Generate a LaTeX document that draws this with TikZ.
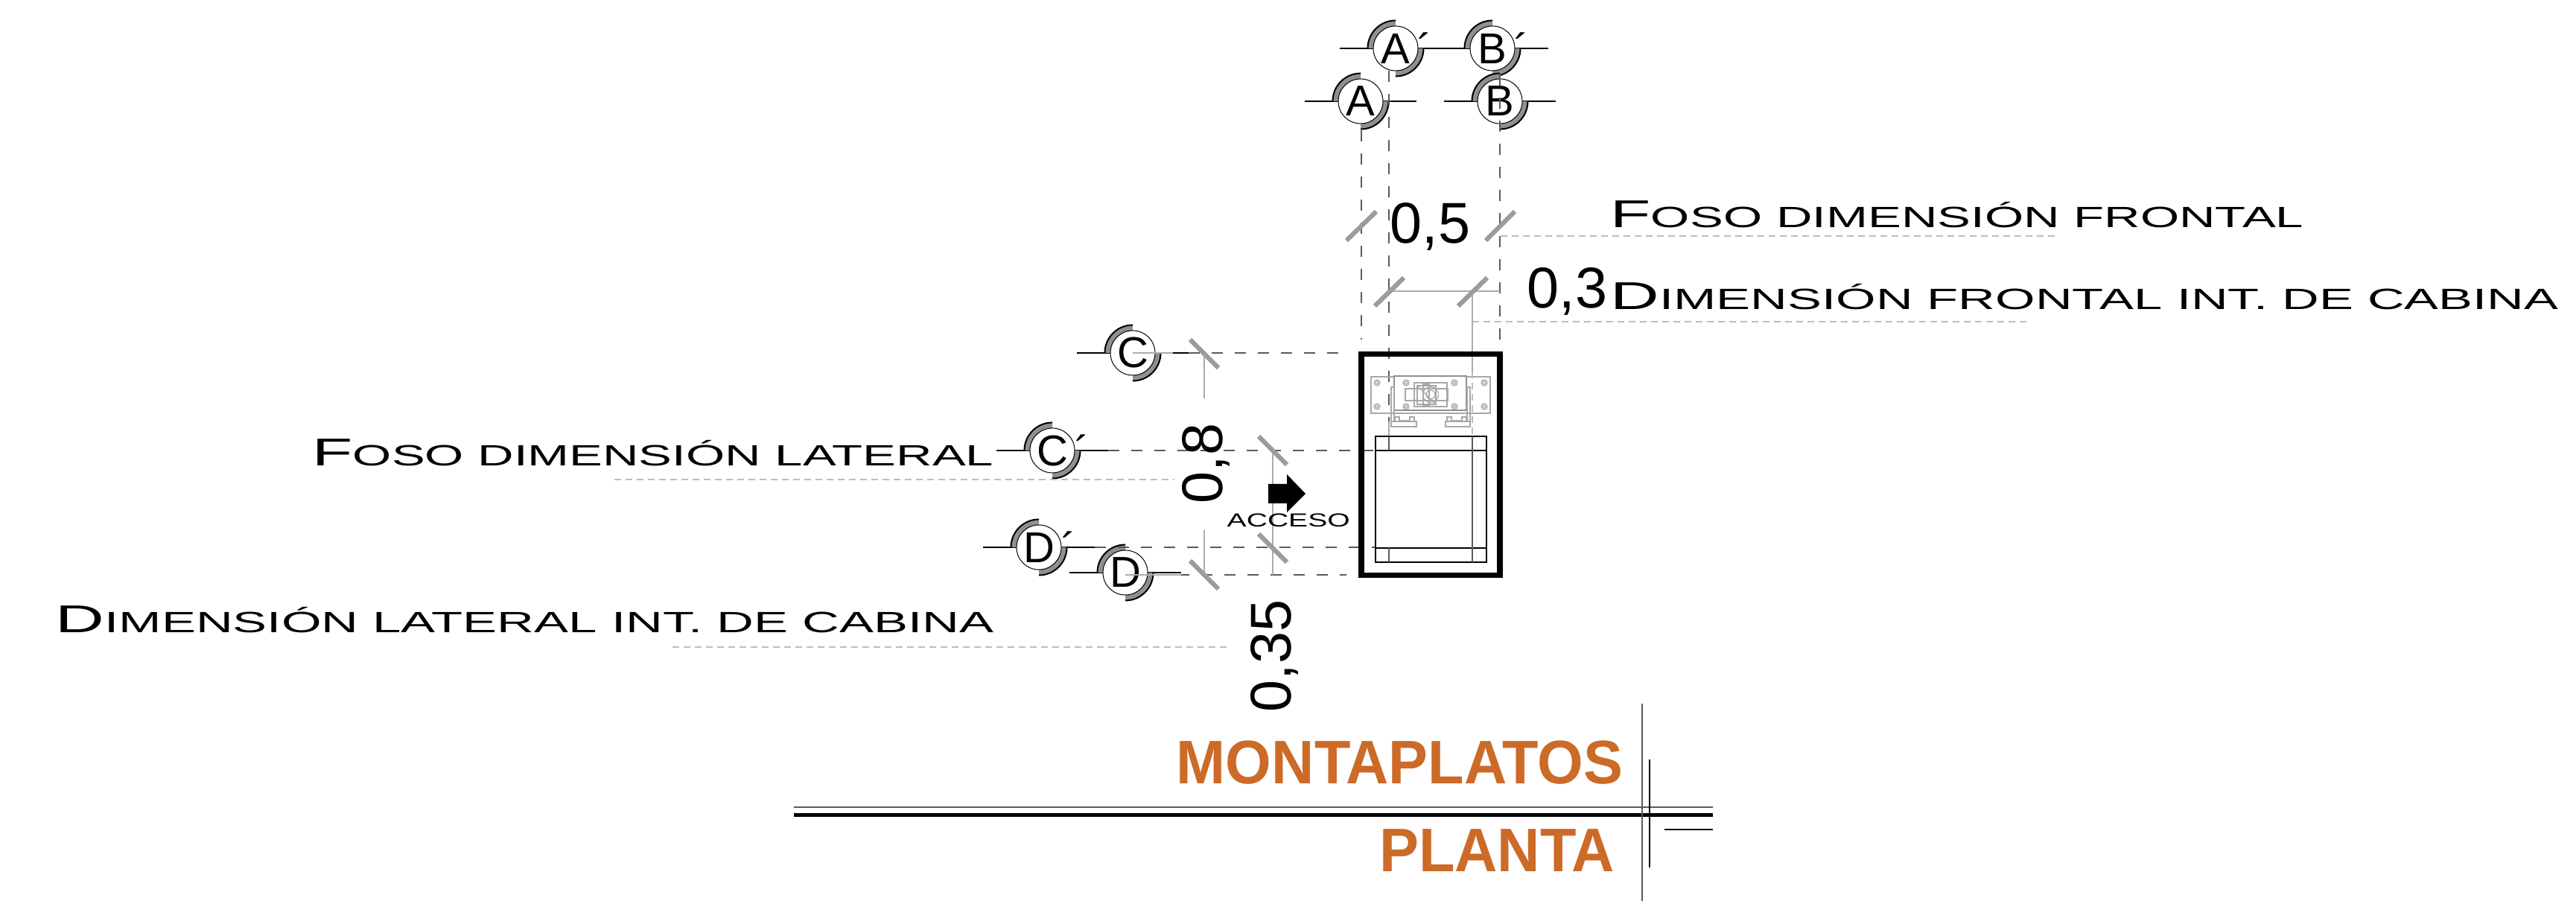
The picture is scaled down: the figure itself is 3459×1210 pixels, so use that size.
\documentclass[tikz,border=0pt]{standalone}
\usepackage{fontspec}
\usepackage{graphicx}
\setmainfont{Liberation Sans}
\definecolor{ringgray}{HTML}{8F8F8F}
\definecolor{tickgray}{HTML}{9C9C9C}
\definecolor{titleorange}{HTML}{CC6A28}
\definecolor{axisdark}{HTML}{5A5A5A}
\definecolor{leadergray}{HTML}{BDBDBD}
\definecolor{thingray}{HTML}{ABABAB}
\definecolor{machgray}{HTML}{A8A8A8}
\tikzset{
  secline/.style={black,line width=0.016cm},
  rimline/.style={black,line width=0.02cm},
  axisline/.style={axisdark,line width=0.012cm,dash pattern=on 0.15cm off 0.16cm},
  leaderline/.style={leadergray,line width=0.012cm,dash pattern=on 0.09cm off 0.06cm},
  thinline/.style={thingray,line width=0.014cm},
  ticksign/.style={tickgray,line width=0.062cm},
  cabline/.style={black,line width=0.014cm},
  machline/.style={machgray,line width=0.012cm},
  machdark/.style={machgray!85!black,line width=0.016cm},
  bubblenode/.style={circle,draw=black,fill=white,line width=0.01cm,minimum size=0.6cm,inner sep=0pt,font=\fontsize{16.5}{16.5}\selectfont},
  dimtext/.style={inner sep=0pt,font=\fontsize{22}{22}\selectfont},
  labeltext/.style={inner sep=0pt,anchor=base west},
  titletext/.style={inner sep=0pt,anchor=base east,text=titleorange,font=\fontsize{23.5}{24}\selectfont\bfseries},
}
\newcommand\capsz{\fontsize{14.8}{14.8}\selectfont}
\newcommand\smsz{\fontsize{11.2}{12}\selectfont}
\newcommand\primemark{\rlap{\raisebox{-0.02em}{\,´}}}
\newcommand\secbubble[4]{%
  \coordinate (#1c) at (#2,#3);
  \coordinate (#1l) at (#2-75,#3);
  \coordinate (#1r) at (#2+75,#3);
  \draw[secline] (#1l) -- (#1r);
  \fill[ringgray] (#1c) ++(180:0.38cm) arc[start angle=180,end angle=90,radius=0.38cm] -- ++(270:0.09cm) arc[start angle=90,end angle=180,radius=0.29cm] -- cycle;
  \fill[ringgray] (#1c) ++(0:0.38cm) arc[start angle=0,end angle=-90,radius=0.38cm] -- ++(90:0.09cm) arc[start angle=-90,end angle=0,radius=0.29cm] -- cycle;
  \draw[rimline] (#1c) ++(180:0.375cm) arc[start angle=180,end angle=90,radius=0.375cm];
  \draw[rimline] (#1c) ++(0:0.375cm) arc[start angle=0,end angle=-90,radius=0.375cm];
  \node[bubblenode] (#1) at (#1c) {#4};
}
\newcommand\widelabel[5]{\node[labeltext] (#1) at (#2,#3) {\resizebox{#4cm}{\height}{#5}};}
\begin{document}
\begin{tikzpicture}[x=0.01cm,y=-0.01cm]
\useasboundingbox (0,0) rectangle (3459,1210);
\fill[white] (0,0) rectangle (3459,1210);

% section bubbles
\secbubble{secAp}{1874}{65}{A\primemark}
\secbubble{secBp}{2004}{65}{B\primemark}
\secbubble{secA}{1827}{136}{A}
\secbubble{secB}{2014}{136}{B}
\secbubble{secC}{1521}{474}{C}
\secbubble{secCp}{1413}{605}{C\primemark}
\secbubble{secDp}{1395}{735}{D\primemark}
\secbubble{secD}{1511}{769}{D}

% axes
\draw[axisline] (1828,175) -- (1828,456);
\draw[axisline] (1865,95) -- (1865,588);
\draw[axisline] (2014,100) -- (2014,456);
\draw[axisline] (1596,474) -- (1808,474);
\draw[axisline] (1488,605) -- (1848,605);
\draw[axisline] (1470,735) -- (1848,735);
\draw[axisline] (1520,772) -- (1808,772);
\draw[thingray,line width=0.012cm] (1521,474) -- (1575,474);
\draw[thingray,line width=0.012cm] (1511,772) -- (1586,772);

% witness lines
\draw[thinline] (1865,391) -- (2014,391);
\draw[thinline] (1977,391) -- (1977,499);
\draw[thinline] (1617,474) -- (1617,535);
\draw[thinline] (1617,712) -- (1617,772);
\draw[thinline] (1709,605) -- (1709,772);

% leaders
\draw[leaderline] (2015,317) -- (2764,317);
\draw[leaderline] (1977,432) -- (2727,432);
\draw[leaderline] (825,644) -- (1577,644);
\draw[leaderline] (903,869) -- (1653,869);

% ticks
\draw[ticksign] (1808,323) -- (1848,284);
\draw[ticksign] (1995,323) -- (2034,284);
\draw[ticksign] (1846,411) -- (1885,373);
\draw[ticksign] (1958,411) -- (1997,373);
\draw[ticksign] (1598,456) -- (1636,494);
\draw[ticksign] (1690,586) -- (1728,624);
\draw[ticksign] (1690,717) -- (1728,755);
\draw[ticksign] (1598,753) -- (1636,791);

% pit wall
\draw[black,line width=0.078cm] (1828,475.5) rectangle (2014,772.5);

% machine
\draw[machline] (1841,506) rectangle (2001,555);
\draw[machdark,fill=white] (1872,505) rectangle (1969,551);
\draw[machline] (1899,514) rectangle (1943,546);
\draw[machline] (1887,522) rectangle (1944,538);
\draw[machline] (1903,518) rectangle (1928,543);
\draw[machline] (1911,516) rectangle (1919,545);
\draw[machline] (1903,518) -- (1928,543);
\draw[machline] (1921,530) circle[radius=0.105cm];
\draw[machline] (1921,530) circle[radius=0.06cm];
\foreach \bx in {1849,1888,1953,1993}
  \foreach \by in {514,546} {
    \draw[machline] (\bx,\by) circle[radius=0.04cm];
    \draw[machline] (\bx,\by) circle[radius=0.02cm];
  }
\draw[machline] (1868,520) rectangle (1872,566);
\draw[machline] (1970,520) rectangle (1974,566);
\draw[machline] (1868,566) rectangle (1902,573);
\draw[machline] (1941,566) rectangle (1974,573);
\draw[machline] (1873,560) rectangle (1879,566);
\draw[machline] (1893,560) rectangle (1899,566);
\draw[machline] (1943,560) rectangle (1949,566);
\draw[machline] (1963,560) rectangle (1969,566);
\draw[machline] (1879,565) -- (1893,565);
\draw[machline] (1949,565) -- (1963,565);
\draw[thinline] (1865,566) -- (1865,586);
\draw[leaderline] (1977,499) -- (1977,586);

% cabin
\draw[cabline] (1847,586) rectangle (1996,755);
\draw[cabline] (1847,605) -- (1996,605);
\draw[cabline] (1847,736) -- (1996,736);
\draw[axisdark,line width=0.014cm] (1865,586) -- (1865,605);
\draw[axisdark,line width=0.014cm] (1977,586) -- (1977,755);
\draw[axisdark,line width=0.014cm] (1865,736) -- (1865,755);

% access arrow
\fill[black] (1703,650) -- (1728,650) -- (1728,637) -- (1753,663) -- (1728,688) -- (1728,676) -- (1703,676) -- cycle;
\node[labeltext] (acceso) at (1647,708) {\resizebox{1.65cm}{\height}{\fontsize{7.2}{8}\selectfont ACCESO}};

% dimensions
\node[dimtext,anchor=base west] (dimfive) at (1866,327) {0,5};
\node[dimtext,anchor=base west] (dimthree) at (2050,414) {0,3};
\node[dimtext,anchor=base west,rotate=90] (dimeight) at (1641,677) {0,8};
\node[dimtext,anchor=base west,rotate=90] (dimthreefive) at (1733,957) {0,35};

% labels
\widelabel{lblFF}{2162}{306}{9.30}{\capsz F\smsz OSO DIMENSIÓN FRONTAL}
\widelabel{lblDF}{2162}{416}{12.72}{\capsz D\smsz IMENSIÓN FRONTAL INT. DE CABINA}
\widelabel{lblFL}{419}{626}{9.14}{\capsz F\smsz OSO DIMENSIÓN LATERAL}
\widelabel{lblDL}{74}{850}{12.59}{\capsz D\smsz IMENSIÓN LATERAL INT. DE CABINA}

% title block
\node[titletext] (titleA) at (2180,1053) {\resizebox{5.99cm}{\height}{MONTAPLATOS}};
\node[titletext] (titleB) at (2169,1171) {\resizebox{3.16cm}{\height}{PLANTA}};
\draw[axisdark,line width=0.028cm] (1066,1084) -- (2300,1084);
\draw[black,line width=0.05cm] (1066,1095) -- (2300,1095);
\draw[axisdark,line width=0.012cm] (2205,945) -- (2205,1210);
\draw[black,line width=0.012cm] (2215,1020) -- (2215,1165);
\draw[black,line width=0.012cm] (2235,1114) -- (2300,1114);
\end{tikzpicture}
\end{document}
